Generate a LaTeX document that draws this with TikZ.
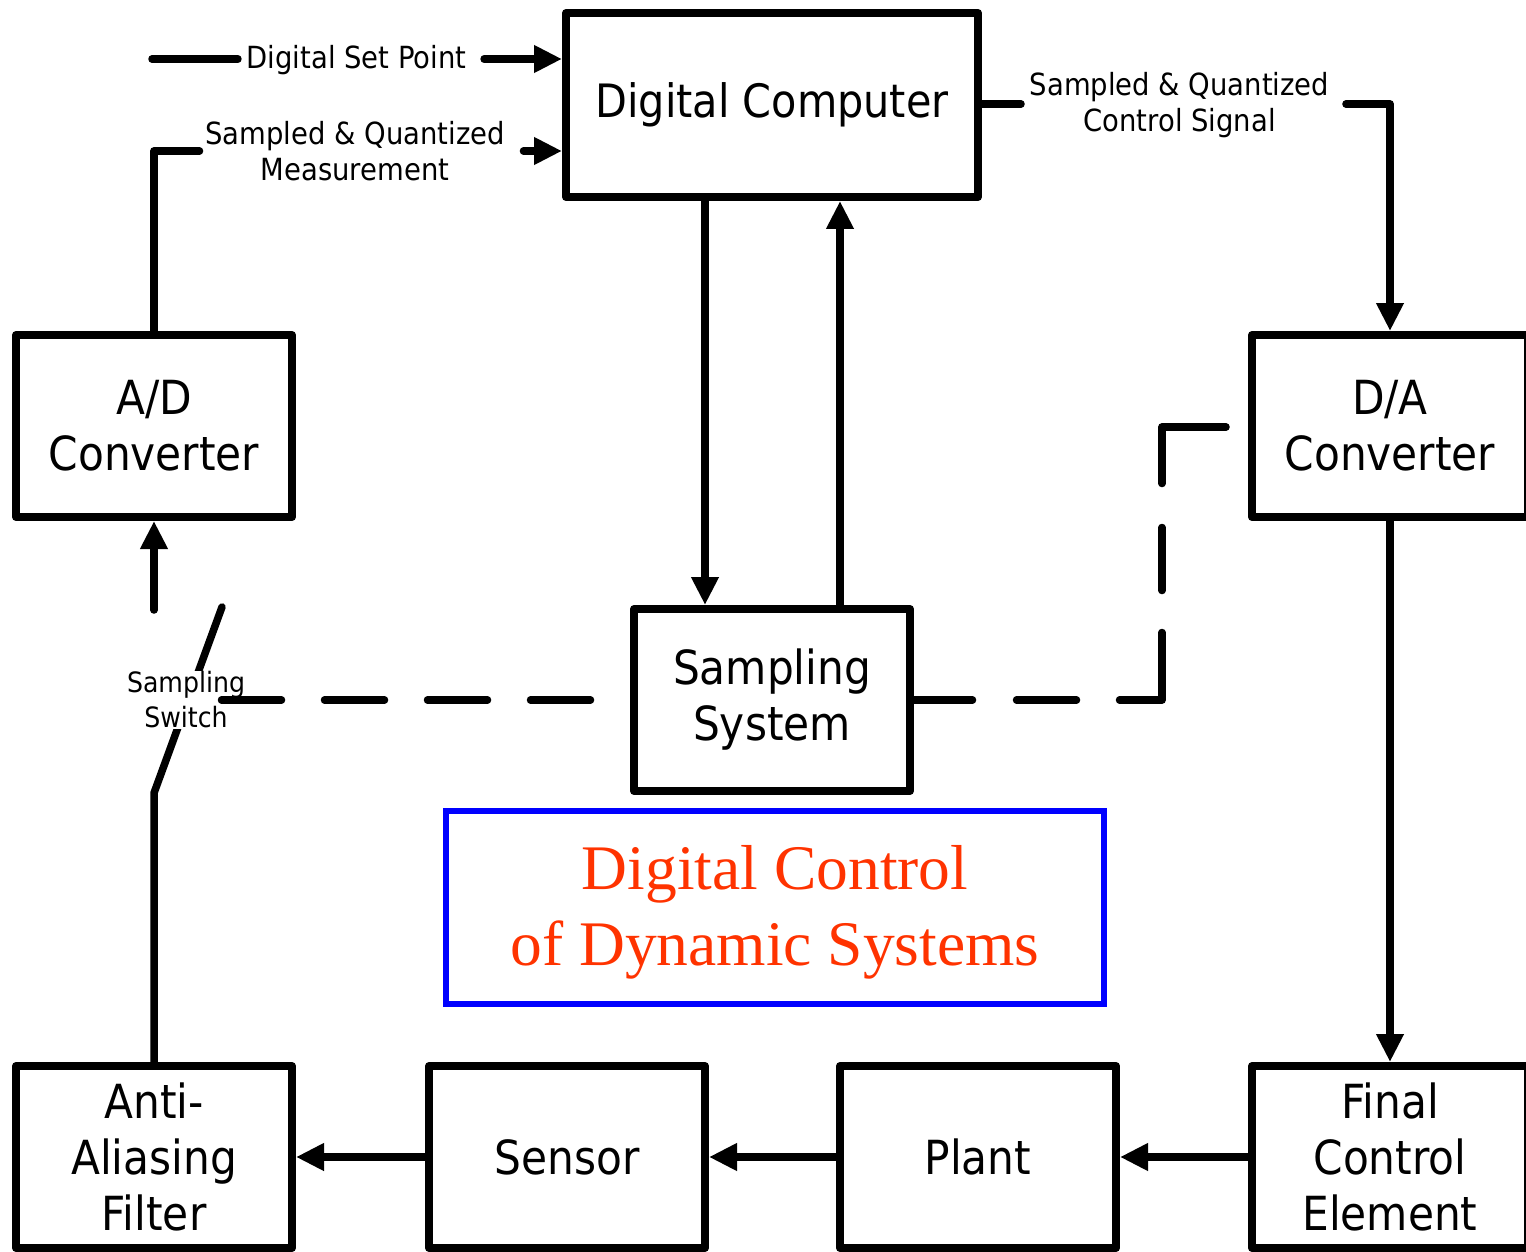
\documentclass[tikz,border=0pt]{standalone}
\usepackage{fontspec}
\usetikzlibrary{arrows.meta}
\newfontfamily\comicf[FakeStretch=0.9]{DejaVu Sans}
\newfontfamily\timesf{Liberation Serif}
\definecolor{titlered}{RGB}{255,51,0}
\begin{document}
\begin{tikzpicture}[x=1pt,y=-1pt,
  blk/.style={draw,line width=8pt,line join=round,minimum width=276pt,minimum height=182pt,inner sep=0pt,align=center,font=\comicf\fontsize{47}{56}\selectfont},
  lbl/.style={fill=white,inner xsep=4pt,inner ysep=2pt,align=center,font=\comicf\fontsize{30.5}{36}\selectfont},
  wire/.style={line width=7.5pt,line cap=round,line join=round},
  arr/.style={wire,-{Triangle[length=28pt,width=26pt]}}]
\useasboundingbox (0,0) rectangle (1526,1252);
\clip (0,0) rectangle (1526,1252);

% blocks
\node[blk,minimum width=412pt,minimum height=184pt,font=\comicf\fontsize{46}{56}\selectfont] (DC) at (772,105) {Digital Computer};
\node[blk] (AD) at (154,426) {A/D\\Converter};
\node[blk] (DA) at (1390,426) {D/A\\Converter};
\node[blk] (SS) at (772,700) {Sampling\\System};
\node[blk] (AAF) at (154,1157) {Anti-\\Aliasing\\Filter};
\node[blk] (SEN) at (567,1157) {Sensor};
\node[blk] (PL) at (978,1157) {Plant};
\node[blk] (FCE) at (1390,1157) {Final\\Control\\Element};
\node[draw=blue,line width=6pt,minimum width=658pt,minimum height=193pt] (TT) at (775,907.5) {};
\node[align=center,text=titlered,font=\timesf\fontsize{63.5}{76}\selectfont] (TTX) at ([yshift=-5pt]TT.center) {Digital Control\\of Dynamic Systems};

% labels on connectors
\node[lbl] (DSP) at (356.5,60) {Digital Set Point};
\node[lbl] (MEAS) at (355,151) {Sampled \& Quantized\\Measurement};
\node[lbl] (CS) at (1179.5,105) {Sampled \& Quantized\\Control Signal};

% set point
\coordinate (dspin) at (152,59);
\draw[wire] (dspin) -- ([xshift=-4.5pt]DSP.west |- dspin);
\draw[arr] ([xshift=13.5pt]DSP.east |- dspin) -- (DC.west |- dspin);

% measurement
\draw[wire] (AD.north) |- ([xshift=-1.5pt]MEAS.west);
\draw[arr] ([xshift=14.5pt]MEAS.east) -- (DC.west |- MEAS.east);

% control signal
\coordinate (csy) at (1000,104);
\draw[wire] (DC.east |- csy) -- ([xshift=-4.5pt]CS.west |- csy);
\draw[arr] ([xshift=12.5pt]CS.east |- csy) -| (DA.north);

% computer <-> sampling system
\draw[arr] ([xshift=-67pt]DC.south) -- ([xshift=-67pt]DC.south |- SS.north);
\draw[arr] ([xshift=68pt]SS.north) -- ([xshift=68pt]SS.north |- DC.south);

% forward path
\draw[arr] (DA.south) -- (FCE.north);
\draw[arr] (FCE.west) -- (PL.east);
\draw[arr] (PL.west) -- (SEN.east);
\draw[arr] (SEN.west) -- (AAF.east);

% sampling switch
\coordinate (swb) at (154,793);
\coordinate (swt) at (222,607);
\draw[wire] (AAF.north) -- (swb) -- (swt);
\node[fill=white,inner sep=1pt,align=center,font=\comicf\fontsize{28}{35}\selectfont] (SW) at (186,700) {Sampling\\Switch};
\coordinate (adin) at (154,610);
\draw[arr] (adin) -- (AD.south);

% dashed sampling lines
\coordinate (swd) at (220,700);
\draw[wire,dash pattern=on 60pt off 43pt,dash phase=63.5pt] (SS.west) -- (swd);
\coordinate (dcor) at (1162,427);
\coordinate (dad) at (1226,427);
\draw[wire,dash pattern=on 58.5pt off 44pt on 60pt off 43pt on 110pt off 42pt on 63pt off 44pt on 124pt off 10pt] (SS.east) -| (dcor) -- (dad);
\end{tikzpicture}
\end{document}
